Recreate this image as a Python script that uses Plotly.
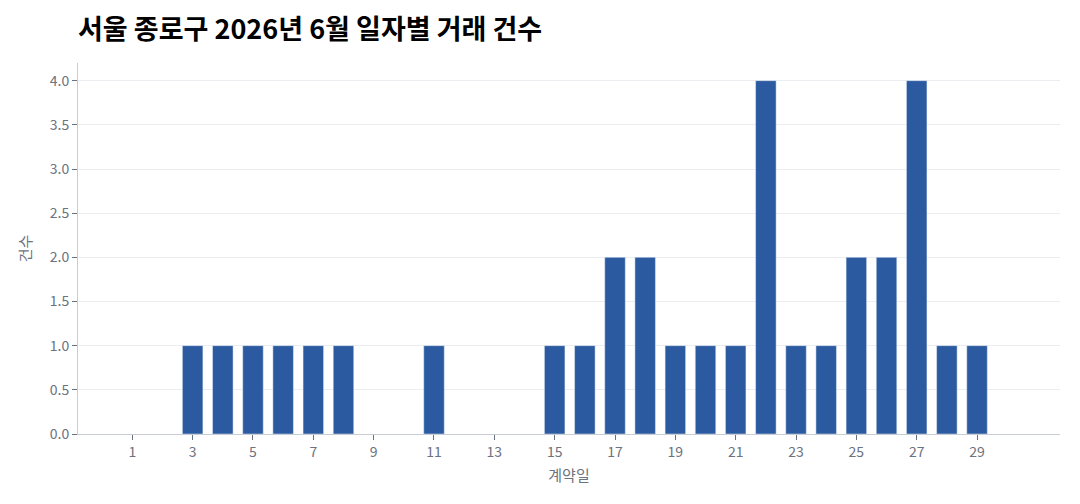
import plotly.graph_objects as go

# daily deal counts (contract day -> count)
days = [3, 4, 5, 6, 7, 8, 11, 15, 16, 17, 18, 19, 20, 21, 22, 23, 24, 25, 26, 27, 28, 29]
counts = [1, 1, 1, 1, 1, 1, 1, 1, 1, 2, 2, 1, 1, 1, 4, 1, 1, 2, 2, 4, 1, 1]

x_ticks = list(range(1, 30, 2))
y_ticks = [0, 0.5, 1.0, 1.5, 2.0, 2.5, 3.0, 3.5, 4.0]

font_kr = "Noto Sans CJK KR"
grey = "#6b7280"

fig = go.Figure(go.Bar(x=days, y=counts, marker_color="#2b5aa0", width=0.68))

# page body has an 8px margin, so the figure is a bit smaller than the window
fig.update_layout(
    width=1072, height=488,
    paper_bgcolor="white", plot_bgcolor="white",
    margin=dict(l=70, r=20, t=55, b=62),
    title=dict(text="<b>서울 종로구 2026년 6월 일자별 거래 건수</b>",
               x=0.0, xref="paper", xanchor="left", y=0.955, yanchor="middle",
               font=dict(family=font_kr, size=27, color="black")),
    font=dict(family=font_kr, size=14, color=grey),
    showlegend=False,
)

fig.update_xaxes(
    range=[-0.8, 31.75], tickvals=x_ticks, ticktext=[str(t) for t in x_ticks],
    showgrid=False, showline=True, linecolor="#c8ccd4", linewidth=1,
    ticks="outside", ticklen=5, tickcolor=grey,
    tickfont=dict(size=14, color=grey),
    title=dict(text="계약일", font=dict(size=15, color=grey), standoff=10),
)
fig.update_yaxes(
    range=[0, 4.2], tickvals=y_ticks, ticktext=["%.1f" % v for v in y_ticks],
    showgrid=True, gridcolor="#ebedf0", zeroline=False,
    showline=True, linecolor="#c8ccd4", linewidth=1,
    ticks="outside", ticklen=5, tickcolor=grey,
    tickfont=dict(size=14, color=grey),
    title=dict(text="건수", font=dict(size=15, color=grey), standoff=14),
)

fig.write_html("out.html")
